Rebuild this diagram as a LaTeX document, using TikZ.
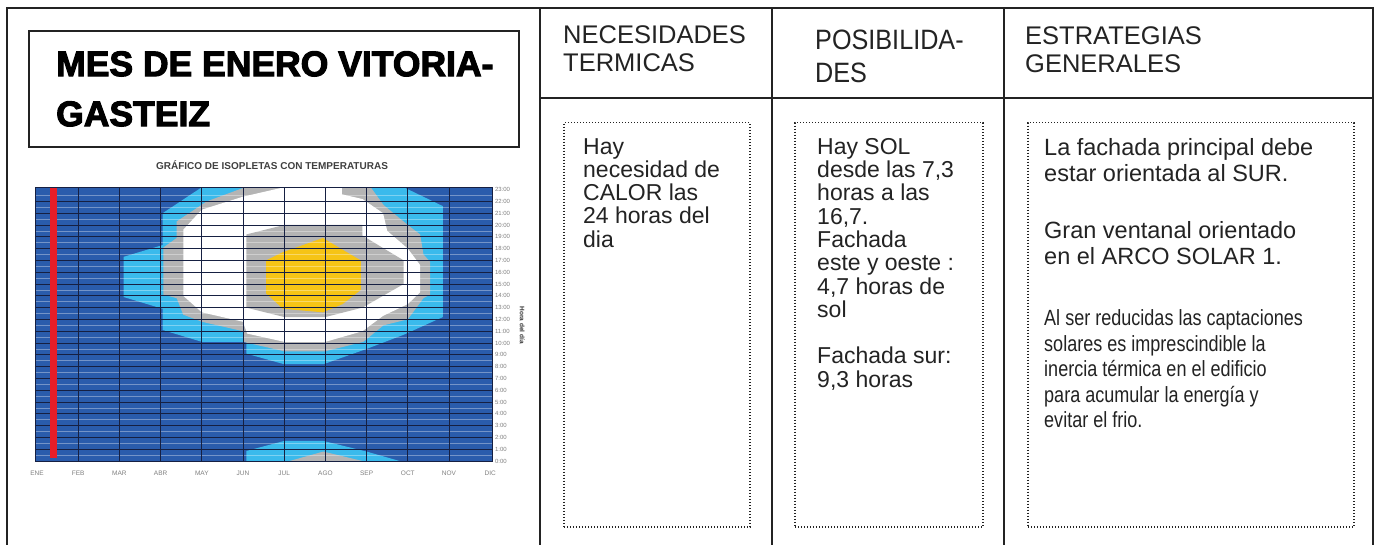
\documentclass[tikz,border=0pt]{standalone}
\usepackage{fontspec}
\setmainfont{Liberation Sans}
\newfontfamily\fuentetitulo[FakeBold=3]{Liberation Sans Bold}
\newfontfamily\fuenteestrecha[FakeStretch=0.82]{Liberation Sans}
\newfontfamily\fuentealta[FakeStretch=0.9]{Liberation Sans}
\usepackage{tikz}
\usetikzlibrary{positioning}
\definecolor{azulgraf}{RGB}{42,92,172}
\definecolor{cian}{RGB}{58,186,236}
\definecolor{grisgraf}{RGB}{180,180,180}
\definecolor{amarillo}{RGB}{246,196,22}
\definecolor{rojo}{RGB}{232,30,40}
\definecolor{rejilla}{RGB}{22,32,66}
\definecolor{tinta}{RGB}{35,35,35}
\tikzset{marco/.style={line width=2pt, draw=tinta}}
\tikzset{cajatitulo/.style={draw=tinta, line width=1.8pt, anchor=north west, minimum width=490pt, minimum height=116pt, inner sep=0pt}}
\tikzset{textotitulo/.style={inner sep=0pt, align=left, font=\fuentetitulo\fontsize{35.5}{50}\selectfont}}
\tikzset{cajapuntos/.style={draw=tinta, line width=1.5pt, dash pattern=on 1.2pt off 1.8pt, anchor=north west,
    inner sep=0pt, minimum width=#1, minimum height=404pt}}
\tikzset{cabecera/.style={anchor=north west, inner sep=0pt, align=left, text=tinta, font=\fontsize{25.5}{28.5}\selectfont}}
\tikzset{texto/.style={inner sep=0pt, align=left, text=tinta, font=\fontsize{23}{23.3}\selectfont}}
\tikzset{etiquetahora/.style={anchor=west, inner sep=0.5pt, text=gray, font=\fontsize{6}{7}\selectfont}}
\tikzset{etiquetames/.style={inner sep=0.5pt, text=gray, font=\fontsize{6.5}{7}\selectfont}}

\begin{document}
\begin{tikzpicture}[x=1pt, y=-1pt]
    \useasboundingbox[fill=white] (0,0) rectangle (1380,545);

    % marco de la tabla
    \draw[marco] (7,545) -- (7,8) -- (1373,8) -- (1373,545);
    \foreach \x in {540,772,1004}
        \draw[marco] (\x,8) -- (\x,545);
    \draw[marco] (540,98) -- (1373,98);

    \node[cajatitulo] (titulo) at (28,30) {};
    \node[textotitulo, right=28pt of titulo.west] (tittexto) {MES DE ENERO VITORIA-\\GASTEIZ};
    \node[text=black!75, font=\bfseries\fontsize{10}{12}\selectfont] (titgraf) at (272,165) {GRÁFICO DE ISOPLETAS CON TEMPERATURAS};

    % grafico de isopletas
    \begin{scope}[shift={(37,461)}, x=41.2pt, y=11.8pt]
        \fill[azulgraf] (-0.05,0) rectangle (11.05,23.2);
        \fill[cian] (4.0,23.2) -- (3.05,21.0) -- (3.05,18.3) -- (2.1,17.3) -- (2.1,13.9) -- (3.05,12.9) -- (3.05,11.1)
            -- (4.0,10.1) -- (5.08,10.1) -- (5.08,9.1) -- (6.0,8.2) -- (6.95,8.2) -- (8.0,9.5) -- (8.9,10.7)
            -- (9.85,12.2) -- (9.85,21.6) -- (8.9,23.2) -- cycle;
        \fill[grisgraf] (5.05,23.2) -- (4.12,22.0) -- (3.39,20.3) -- (3.39,18.9) -- (3.07,18.1) -- (3.07,14.1)
            -- (3.39,13.8) -- (3.55,12.4) -- (4.0,11.8) -- (5.0,11.0) -- (5.0,10.1) -- (6.0,9.3) -- (7.0,9.3)
            -- (7.92,10.1) -- (8.41,11.5) -- (9.0,12.0) -- (9.38,13.8) -- (9.54,14.1) -- (9.54,16.9) -- (9.38,17.5)
            -- (9.3,19.2) -- (9.0,20.0) -- (8.41,21.7) -- (8.1,23.2) -- cycle;
        \fill[white] (6.0,23.2) -- (5.0,22.4) -- (4.0,21.3) -- (3.55,19.6) -- (3.55,14.0) -- (4.0,12.6) -- (5.0,11.8)
            -- (5.1,10.8) -- (6.0,10.1) -- (7.0,10.1) -- (7.9,11.0) -- (8.4,12.3) -- (9.0,13.3) -- (9.3,14.3)
            -- (9.3,16.6) -- (9.0,18.0) -- (8.5,19.5) -- (8.4,21.0) -- (7.9,22.2) -- (7.4,22.6) -- (7.4,23.2) -- cycle;
        \fill[grisgraf] (5.08,19.2) -- (6.0,20.0) -- (7.9,20.0) -- (7.9,19.1) -- (8.9,17.0) -- (8.9,15.0) -- (7.9,13.0)
            -- (7.0,12.2) -- (6.0,12.2) -- (5.08,13.0) -- cycle;
        \fill[amarillo] (5.56,17.0) -- (5.97,17.7) -- (6.94,18.9) -- (7.42,17.9) -- (7.86,17.0) -- (7.86,14.5)
            -- (7.42,13.3) -- (6.94,12.6) -- (5.97,12.9) -- (5.56,14.2) -- cycle;
        \fill[cian] (5.08,0) -- (5.08,0.85) -- (6.0,1.7) -- (6.95,1.7) -- (8.0,0.8) -- (8.8,0) -- cycle;
        \fill[grisgraf] (6.13,0) -- (6.95,0.8) -- (7.9,0) -- cycle;

        % rejilla
        \foreach \h in {0,...,22}
            \draw[white, opacity=0.35, line width=0.5pt] (-0.05,\h+0.5) -- (11.05,\h+0.5);
        \foreach \h in {1,...,22}
            \draw[rejilla, line width=0.8pt] (-0.05,\h) -- (11.05,\h);
        \foreach \m in {1,...,10}
            \draw[rejilla, line width=0.8pt] (\m,0) -- (\m,23.2);
        \draw[rejilla, line width=0.8pt] (-0.05,0) rectangle (11.05,23.2);
        \fill[rojo] (0.32,0.25) rectangle (0.49,23.15);

        \foreach \h in {0,...,23}
            \node[etiquetahora] (hora\h) at (11.1,\h) {\h:00};
        \foreach \mes [count=\i from 0] in {ENE,FEB,MAR,ABR,MAY,JUN,JUL,AGO,SEP,OCT,NOV,DIC}
            \node[etiquetames] (mes\i) at (\i,-1) {\mes};
        \node[rotate=-90, inner sep=0pt, text=black!80, font=\bfseries\fontsize{6.5}{7}\selectfont] (ejey) at (11.78,11.5) {Hora del día};
    \end{scope}

    % cabeceras
    \node[cabecera] (necesidades) at (563,25) {NECESIDADES\\TERMICAS};
    \node[cabecera, font=\fuentealta\fontsize{28}{33}\selectfont] (posibilidades) at (815,30) {POSIBILIDA-\\DES};
    \node[cabecera] (estrategias) at (1025,26) {ESTRATEGIAS\\GENERALES};

    % cajas de texto
    \node[cajapuntos=186pt] (caja1) at (563,122) {};
    \node[cajapuntos=188pt] (caja2) at (794,122) {};
    \node[cajapuntos=326pt] (caja3) at (1027,122) {};

    \node[texto, below right=16pt and 20pt of caja1.north west] (necesidad) {Hay\\necesidad de\\CALOR las\\24 horas del\\dia};
    \node[texto, below right=16pt and 23pt of caja2.north west] (sol) {Hay SOL\\desde las 7,3\\horas a las\\16,7.\\Fachada\\este y oeste :\\4,7 horas de\\sol\\[23.3pt]Fachada sur:\\9,3 horas};
    \node[texto, font=\fontsize{23.5}{26.7}\selectfont, below right=16pt and 17pt of caja3.north west] (estrategia1)
        {La fachada principal debe\\estar orientada al SUR.\\[29.6pt]Gran ventanal orientado\\en el ARCO SOLAR 1.};
    \node[texto, font=\fuenteestrecha\fontsize{22}{25.5}\selectfont, below=44pt of estrategia1.south west, anchor=north west] (estrategia2)
        {Al ser reducidas las captaciones\\solares es imprescindible la\\inercia térmica en el edificio\\para acumular la energía y\\evitar el frio.};
\end{tikzpicture}
\end{document}
